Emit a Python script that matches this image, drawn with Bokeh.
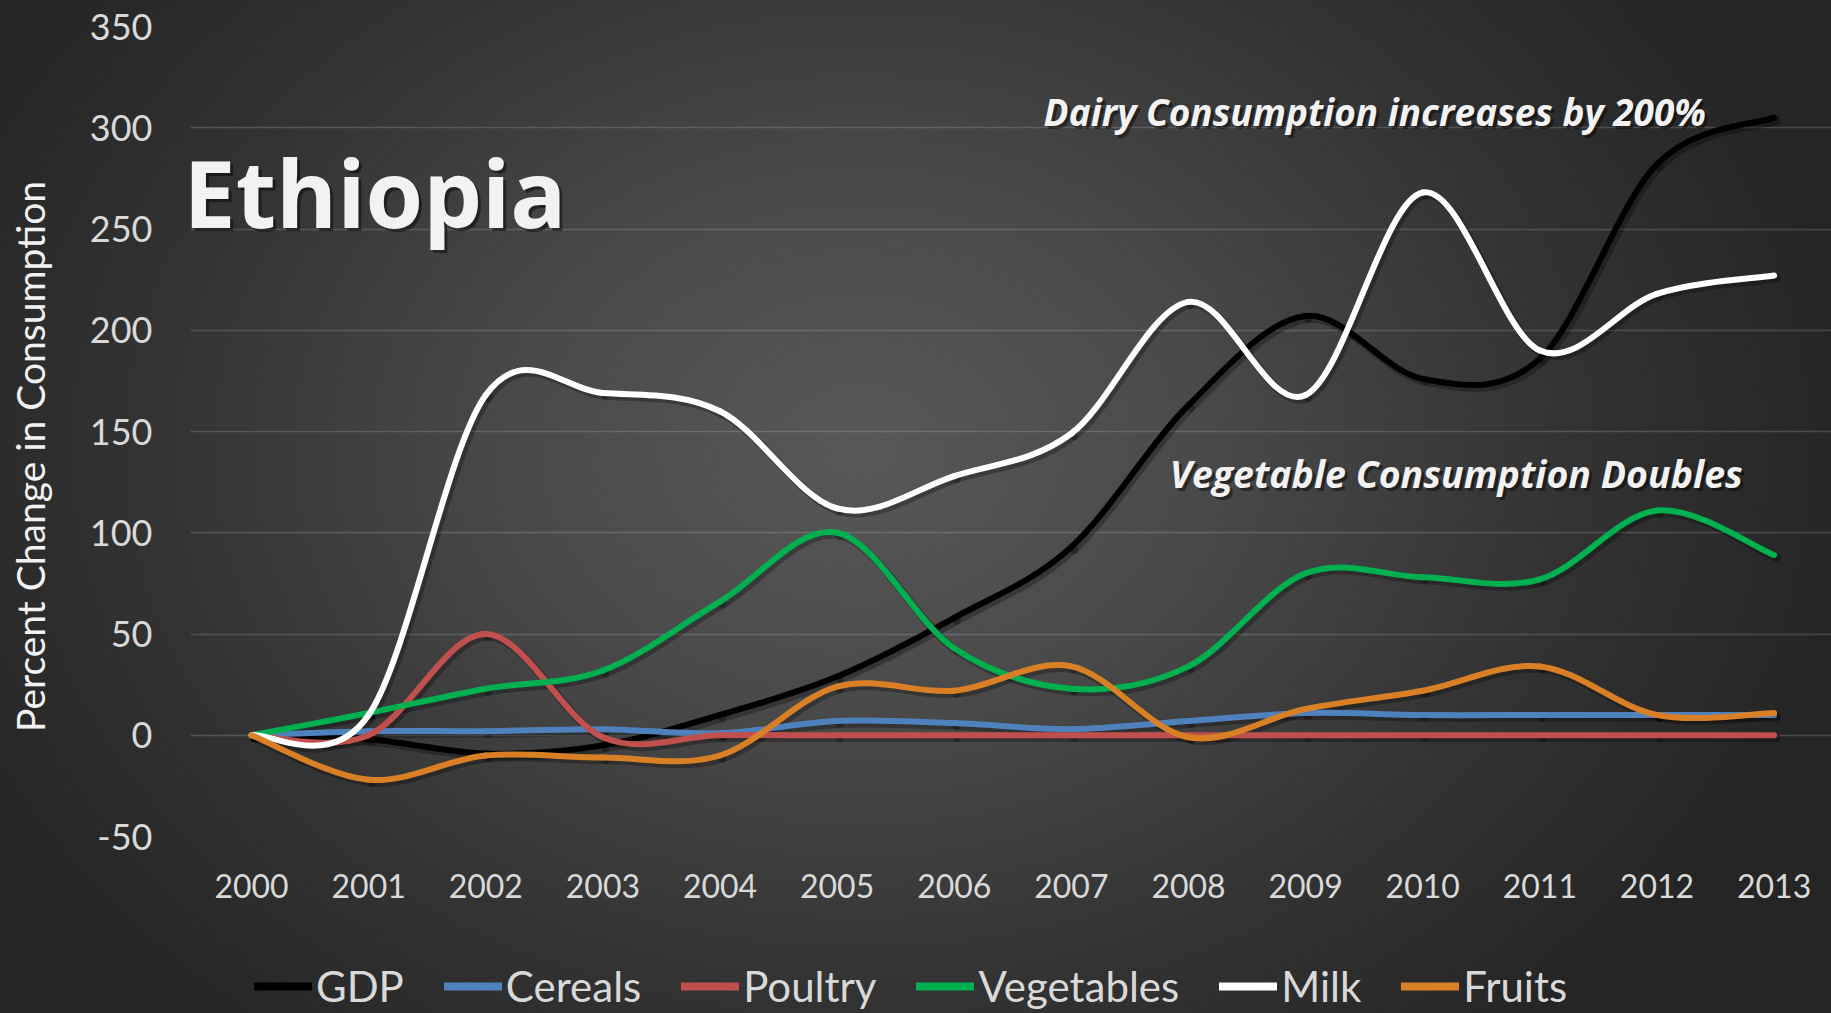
import numpy as np
from bokeh.plotting import figure
from bokeh.layouts import column
from bokeh.models import ColumnDataSource, FixedTicker, Legend, LegendItem, Label
from bokeh.transform import dodge
from bokeh.embed import file_html
from bokeh.resources import INLINE

# ---- data ----
years = [2000, 2001, 2002, 2003, 2004, 2005, 2006, 2007, 2008, 2009, 2010, 2011, 2012, 2013]
gdp = [0, -2, -9, -5, 10, 29, 58, 93, 163, 207, 176, 186, 282, 305]
cereals = [0, 2, 2, 3, 1, 7, 6, 3, 7, 11, 10, 10, 10, 10]
poultry = [0, 0, 50, -1, 0, 0, 0, 0, 0, 0, 0, 0, 0, 0]
vegetables = [0, 11, 23, 32, 66, 100, 43, 23, 34, 80, 78, 77, 111, 89]
milk = [0, 10, 168, 169, 160, 112, 128, 149, 214, 168, 268, 190, 218, 227]
fruits = [0, -22, -10, -11, -10, 24, 22, 34, -1, 13, 22, 34, 10, 11]

series_names = ["GDP", "Cereals", "Poultry", "Vegetables", "Milk", "Fruits"]
series_values = [gdp, cereals, poultry, vegetables, milk, fruits]
series_colors = ["#000000", "#4F81BD", "#C0504D", "#00B050", "#FFFFFF", "#D98026"]
y_ticks = [-50, 0, 50, 100, 150, 200, 250, 300, 350]
y_tick_labels = {-50: "-50"}

FONT = "Lato"
TFONT = "Open Sans"


def smooth_segments(xs, ys):
    """Cubic Bezier segments through the data points (Catmull-Rom style)."""
    x = np.asarray(xs, dtype=float)
    y = np.asarray(ys, dtype=float)
    xp = np.concatenate([[x[0]], x, [x[-1]]])
    yp = np.concatenate([[y[0]], y, [y[-1]]])
    n = len(x)
    d = dict(x0=[], y0=[], x1=[], y1=[], cx0=[], cy0=[], cx1=[], cy1=[])
    for i in range(n - 1):
        k = i + 1
        d["x0"].append(xp[k]); d["y0"].append(yp[k])
        d["x1"].append(xp[k + 1]); d["y1"].append(yp[k + 1])
        d["cx0"].append(xp[k] + (xp[k + 1] - xp[k - 1]) / 6.0)
        d["cy0"].append(yp[k] + (yp[k + 1] - yp[k - 1]) / 6.0)
        d["cx1"].append(xp[k + 1] - (xp[k + 2] - xp[k]) / 6.0)
        d["cy1"].append(yp[k + 1] - (yp[k + 2] - yp[k]) / 6.0)
    return ColumnDataSource(d)


# ---------------- main chart ----------------
p = figure(
    width=1831, height=920,
    x_range=(1999.479, 2013.49), y_range=(-50, 350),
    output_backend="svg", toolbar_location=None, title=None,
    min_border_left=190, min_border_right=0, min_border_top=26, min_border_bottom=84,
)
p.background_fill_color = None
p.border_fill_color = None
p.outline_line_color = None

p.xgrid.grid_line_color = None
p.ygrid.grid_line_color = "#FFFFFF"
p.ygrid.grid_line_alpha = 0.16
p.ygrid.grid_line_width = 1.5

p.yaxis.ticker = FixedTicker(ticks=y_ticks)
p.yaxis.major_label_overrides = y_tick_labels
p.xaxis.ticker = FixedTicker(ticks=years)
for ax in (p.xaxis, p.yaxis):
    ax.axis_line_color = None
    ax.major_tick_line_color = None
    ax.minor_tick_line_color = None
    ax.major_tick_out = 0
    ax.major_tick_in = 0
    ax.major_label_text_font = FONT
    ax.major_label_text_color = "#D9D9D9"
p.xaxis.major_label_text_font_size = "32px"
p.yaxis.major_label_text_font_size = "36px"
p.yaxis.major_label_standoff = 38
p.xaxis.major_label_standoff = 37
p.yaxis.axis_label = "Percent Change in Consumption" + "\u00a0" * 5
p.yaxis.axis_label_text_font = FONT
p.yaxis.axis_label_text_font_style = "normal"
p.yaxis.axis_label_text_font_size = "39px"
p.yaxis.axis_label_text_color = "#F2F2F2"
p.yaxis.axis_label_standoff = 34

# soft drop shadows, then the lines themselves
sources = [smooth_segments(years, vals) for vals in series_values]
SDX, SDY = 0.022, -1.4
for src in sources:
    p.bezier(x0=dodge("x0", SDX), y0=dodge("y0", SDY), x1=dodge("x1", SDX),
             y1=dodge("y1", SDY), cx0=dodge("cx0", SDX), cy0=dodge("cy0", SDY),
             cx1=dodge("cx1", SDX), cy1=dodge("cy1", SDY), source=src,
             line_color="#000000", line_alpha=0.28, line_width=8, line_cap="round")
for src, col in zip(sources, series_colors):
    p.bezier(x0="x0", y0="y0", x1="x1", y1="y1", cx0="cx0", cy0="cy0",
             cx1="cx1", cy1="cy1", source=src, line_color=col,
             line_width=6, line_cap="round", line_join="round")


def add_text(x, y, text, size, style):
    p.add_layout(Label(x=x, y=y, text=text, text_font=TFONT, text_font_size=size,
                       text_font_style=style, text_color="#000000", text_alpha=0.45,
                       x_offset=3, y_offset=-3, text_baseline="middle"))
    p.add_layout(Label(x=x, y=y, text=text, text_font=TFONT, text_font_size=size,
                       text_font_style=style, text_color="#F2F2F2",
                       text_baseline="middle"))


add_text(1999.42, 268.5, "Ethiopia", "93px", "bold")
add_text(2006.763, 308.2, "Dairy Consumption increases by 200%", "37px", "bold italic")
add_text(2007.84, 129.5, "Vegetable Consumption Doubles", "37.5px", "bold italic")

# ---------------- legend strip ----------------
pl = figure(width=1831, height=93, x_range=(0, 1), y_range=(0, 1),
            x_axis_type=None, y_axis_type=None, output_backend="svg",
            toolbar_location=None, title=None, min_border=0)
pl.background_fill_color = None
pl.border_fill_color = None
pl.outline_line_color = None
pl.xgrid.visible = False
pl.ygrid.visible = False

items = []
for name, src, col in zip(series_names, sources, series_colors):
    r = pl.bezier(x0="x0", y0="y0", x1="x1", y1="y1", cx0="cx0", cy0="cy0",
                  cx1="cx1", cy1="cy1", source=src, line_color=col,
                  line_width=8, line_cap="round")
    items.append(LegendItem(label=name, renderers=[r]))

legend = Legend(items=items, orientation="horizontal", location=(64, 2),
                label_text_font=FONT, label_text_font_size="42px",
                label_text_color="#D9D9D9", glyph_width=58, glyph_height=40,
                label_height=40, label_standoff=4, spacing=40, padding=0, margin=0,
                border_line_color=None, background_fill_color=None)
pl.add_layout(legend, "center")

layout = column(
    p, pl, spacing=0,
    styles={"background": "radial-gradient(ellipse 1000px 770px at 860px 450px, "
                          "#585858 0%, #494949 35%, #333333 70%, #252525 100%)"},
)

open("out.html", "w").write(file_html(layout, INLINE))
